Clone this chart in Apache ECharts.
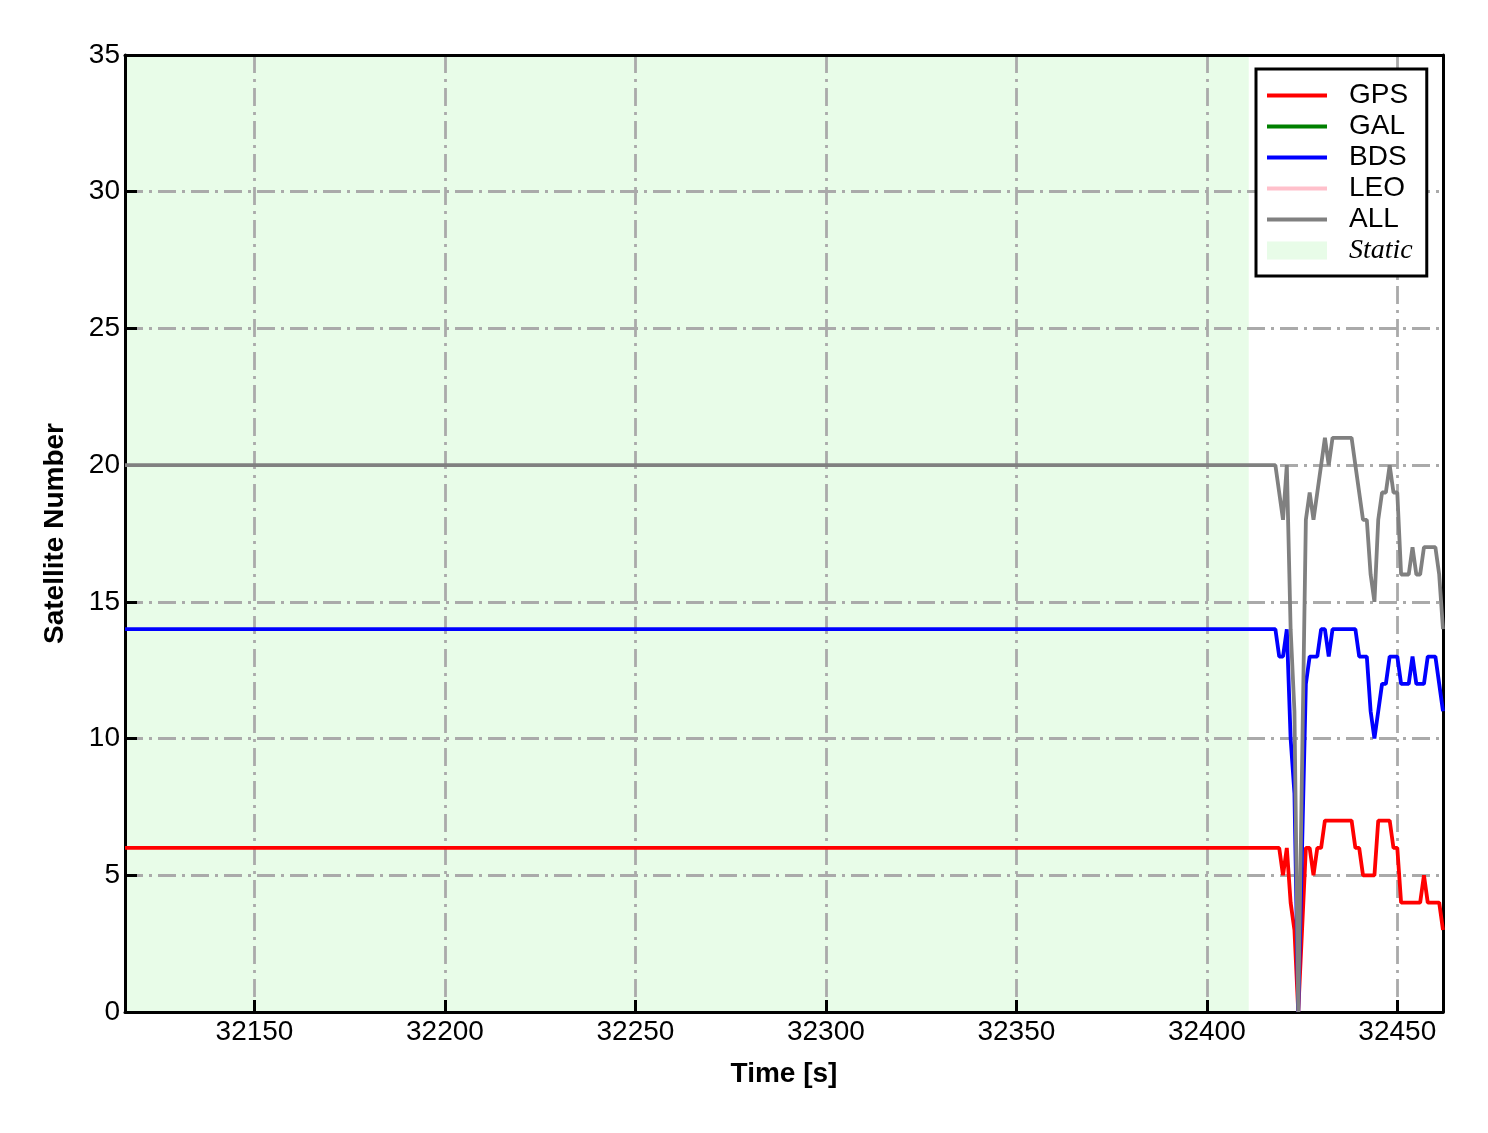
<!DOCTYPE html>
<html>
<head>
<meta charset="utf-8">
<script src="https://cdn.jsdelivr.net/npm/echarts@6/dist/echarts.min.js"></script>
<style>
html,body{margin:0;padding:0;background:#fff;}
#chart{width:1488px;height:1133px;}
</style>
</head>
<body>
<div id="chart"></div>
<script>
// Time stamps [s] (static segment is flat from 32116 to 32418; epoch 32425 has no data)
const times = [32116, 32418, 32419, 32420, 32421, 32422, 32423, 32424, 32426, 32427, 32428, 32429, 32430,
  32431, 32432, 32433, 32434, 32435, 32436, 32437, 32438, 32439, 32440, 32441, 32442, 32443, 32444,
  32445, 32446, 32447, 32448, 32449, 32450, 32451, 32452, 32453, 32454, 32455, 32456, 32457, 32458,
  32459, 32460, 32461, 32462];
const gpsVals = [6, 6, 6, 5, 6, 4, 3, 0, 6, 6, 5, 6, 6,
  7, 7, 7, 7, 7, 7, 7, 7, 6, 6, 5, 5, 5, 5,
  7, 7, 7, 7, 6, 6, 4, 4, 4, 4, 4, 4, 5, 4,
  4, 4, 4, 3];
const galVals = [];
const bdsVals = [14, 14, 13, 13, 14, 10, 8, 0, 12, 13, 13, 13, 14,
  14, 13, 14, 14, 14, 14, 14, 14, 14, 13, 13, 13, 11, 10,
  11, 12, 12, 13, 13, 13, 12, 12, 12, 13, 12, 12, 12, 13,
  13, 13, 12, 11];
const leoVals = [];
const allVals = [20, 20, 19, 18, 20, 14, 11, 0, 18, 19, 18, 19, 20,
  21, 20, 21, 21, 21, 21, 21, 21, 20, 19, 18, 18, 16, 15,
  18, 19, 19, 20, 19, 19, 16, 16, 16, 17, 16, 16, 17, 17,
  17, 17, 16, 14];
const staticRange = [32116, 32411];
const xRange = [32116, 32462];
const yTicks = [0, 5, 10, 15, 20, 25, 30, 35];

function pairs(vals) { return vals.map((v, i) => [times[i], v]); }

const chart = echarts.init(document.getElementById('chart'), null, {renderer: 'canvas'});
const font = 'Liberation Sans, Arial, sans-serif';
const gridLine = {show: true, showMinLine: false, showMaxLine: false,
  lineStyle: {color: '#aaaaaa', width: 2.8, type: [18, 6, 3, 6]}};
const barIcon = 'path://M0,0h60v4h-60z';

function lineSeries(name, color, vals) {
  return {
    name: name, type: 'line', data: pairs(vals), symbol: 'none', showSymbol: false,
    lineStyle: {color: color, width: 3.8}, itemStyle: {color: color}, z: 3,
    animation: false
  };
}

const axisLineStyle = {show: true, onZero: false, lineStyle: {color: '#000', width: 3}};
const ticks = {show: true, inside: true, length: 12, lineStyle: {color: '#000', width: 3}};

const option = {
  animation: false,
  backgroundColor: '#ffffff',
  grid: {left: 125, right: 45, top: 55, bottom: 121, show: false},
  xAxis: [{
    type: 'value', min: xRange[0], max: xRange[1], minInterval: 50, maxInterval: 50,
    name: 'Time [s]', nameLocation: 'middle', nameGap: 48,
    nameTextStyle: {fontFamily: font, fontSize: 28, fontWeight: 'bold', color: '#000'},
    axisLine: axisLineStyle,
    axisTick: ticks,
    axisLabel: {fontFamily: font, fontSize: 28, color: '#000', margin: 6, showMinLabel: false, showMaxLabel: false,
      formatter: v => String(v)},
    splitLine: gridLine
  }, {
    type: 'value', position: 'top', min: xRange[0], max: xRange[1],
    axisLine: axisLineStyle, axisTick: {show: false}, axisLabel: {show: false}, splitLine: {show: false}
  }],
  yAxis: [{
    type: 'value', min: yTicks[0], max: yTicks[yTicks.length - 1], interval: 5,
    name: 'Satellite Number', nameLocation: 'middle', nameGap: 56,
    nameTextStyle: {fontFamily: font, fontSize: 28, fontWeight: 'bold', color: '#000'},
    axisLine: axisLineStyle,
    axisTick: ticks,
    axisLabel: {fontFamily: font, fontSize: 28, color: '#000', margin: 5},
    splitLine: gridLine
  }, {
    type: 'value', position: 'right', min: yTicks[0], max: yTicks[yTicks.length - 1],
    axisLine: axisLineStyle, axisTick: {show: false}, axisLabel: {show: false}, splitLine: {show: false}
  }],
  legend: {
    left: 1256, top: 69, orient: 'vertical',
    backgroundColor: '#fff', borderColor: '#000', borderWidth: 3, borderRadius: 0,
    padding: [11, 14, 10, 11], itemGap: 0, itemWidth: 60, itemHeight: 18,
    textStyle: {fontFamily: font, fontSize: 28, color: '#000', lineHeight: 31, padding: [0, 0, 0, 17]},
    data: [
      {name: 'GPS', icon: barIcon}, {name: 'GAL', icon: barIcon}, {name: 'BDS', icon: barIcon},
      {name: 'LEO', icon: barIcon}, {name: 'ALL', icon: barIcon},
      {name: 'Static', icon: 'rect', textStyle: {fontFamily: 'Liberation Serif, Times New Roman, serif', fontStyle: 'italic', fontSize: 28, color: '#000', padding: [0, 0, 0, 17]}}
    ]
  },
  series: [
    {
      name: 'Static', type: 'line', data: [], symbol: 'none', z: -10,
      itemStyle: {color: '#e8fce8'}, lineStyle: {width: 0},
      markArea: {
        silent: true, z: -10,
        itemStyle: {color: '#e8fce8'},
        data: [[{xAxis: staticRange[0]}, {xAxis: staticRange[1]}]]
      }
    },
    lineSeries('GPS', '#ff0000', gpsVals),
    lineSeries('GAL', '#008000', galVals),
    lineSeries('BDS', '#0000ff', bdsVals),
    lineSeries('LEO', '#ffc0cb', leoVals),
    lineSeries('ALL', '#808080', allVals)
  ]
};
chart.setOption(option);
</script>
</body>
</html>
